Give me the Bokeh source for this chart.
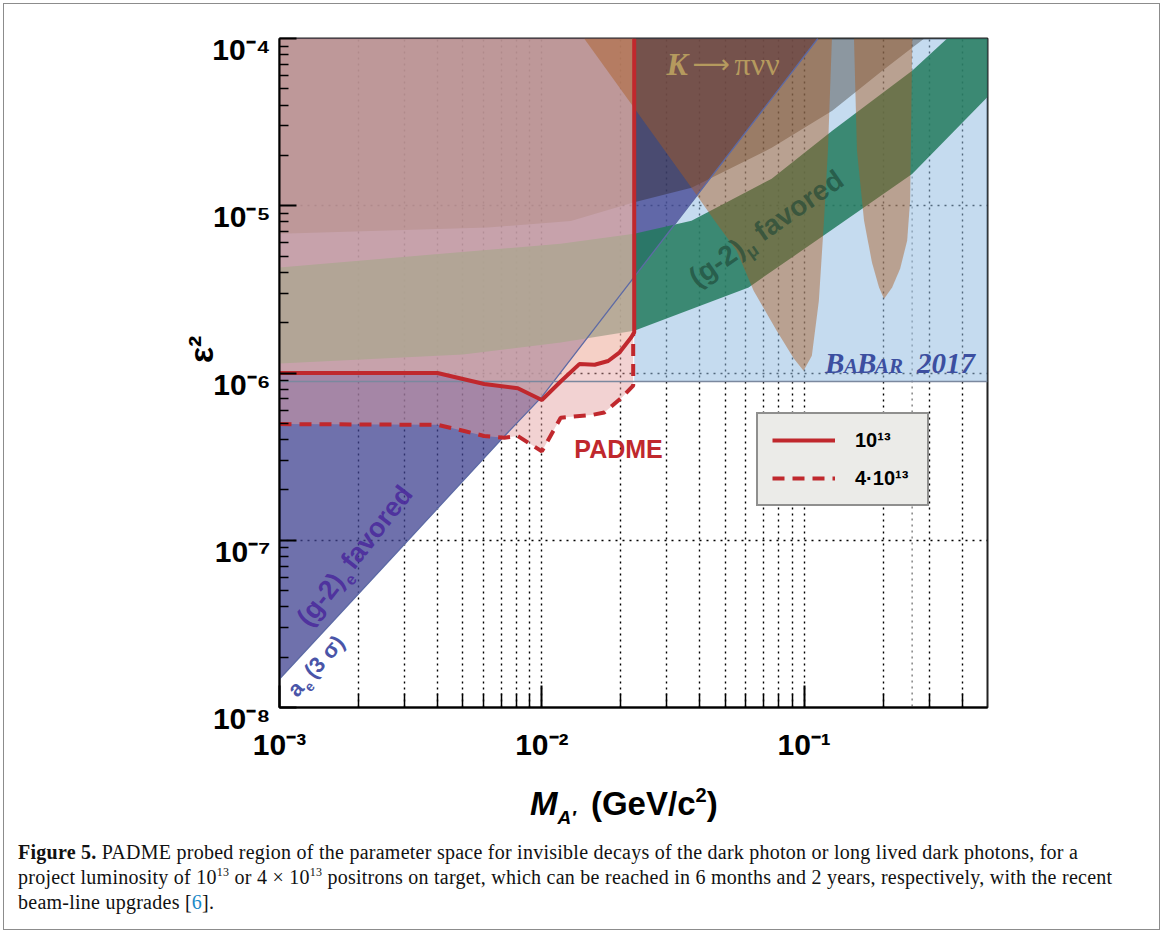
import math
from bokeh.plotting import figure
from bokeh.layouts import column
from bokeh.models import (Label, Legend, LegendItem, Range1d, FixedTicker, Span, Div,
                          CustomJSTickFormatter)
from bokeh.embed import file_html
from bokeh.resources import INLINE

# ---------------- axis limits / ticks ----------------
X_MIN, X_MAX = 1e-3, 0.5
Y_MIN, Y_MAX = 1e-8, 1e-4
x_ticks = [1e-3, 1e-2, 1e-1]
x_tick_labels = ["10⁻³", "10⁻²", "10⁻¹"]
y_ticks = [1e-8, 1e-7, 1e-6, 1e-5, 1e-4]
y_tick_labels = ["10⁻⁸", "10⁻⁷", "10⁻⁶", "10⁻⁵", "10⁻⁴"]
minor_mult = [2, 3, 4, 5, 6, 7, 8, 9]

# ---------------- data ----------------
# a_e (3 sigma) boundary of the (g-2)_e favoured region
ae_mass = [0.001, 0.003, 0.007, 0.01, 0.1128]
ae_eps2 = [1.48e-8, 9.5e-8, 4.0e-7, 7.2e-7, 1.0e-4]

# lower boundary of the dark (a_mu excluded) region
cx_mass = [0.001, 0.00623, 0.0129, 0.0225, 0.0372, 0.0752, 0.128, 0.198, 0.258, 0.287]
cx_eps2 = [6.8e-6, 7.4e-6, 8.1e-6, 1.05e-5, 1.28e-5, 2.22e-5, 3.7e-5, 6.4e-5, 8.8e-5, 1.0e-4]

# (g-2)_mu favoured band
gl_mass = [0.001, 0.005, 0.0118, 0.0225, 0.0614, 0.128, 0.258, 0.5]
gl_eps2 = [1.14e-6, 1.29e-6, 1.52e-6, 1.79e-6, 3.25e-6, 7.2e-6, 1.55e-5, 4.47e-5]
gu_mass = [0.001, 0.0118, 0.0225, 0.0372, 0.0752, 0.128, 0.258, 0.351]
gu_eps2 = [4.28e-6, 5.93e-6, 6.81e-6, 8.13e-6, 1.45e-5, 2.81e-5, 6.41e-5, 1.0e-4]

# BaBar 2017 limit
babar_eps2 = 8.9e-7

# K -> pi nu nu regions
k1_mass = [0.0145, 0.0225, 0.0372, 0.0456, 0.0553, 0.0642, 0.0786, 0.0913, 0.0995, 0.107,
           0.1138, 0.119, 0.1232, 0.1276]
k1_eps2 = [1e-4, 3.84e-5, 1.28e-5, 8.13e-6, 5.38e-6, 3.10e-6, 1.79e-6, 1.22e-6, 1.03e-6,
           1.27e-6, 2.70e-6, 8.1e-6, 2.13e-5, 1e-4]
k2_mass = [0.1549, 0.159, 0.1692, 0.1815, 0.193, 0.2017, 0.2164, 0.2322, 0.247, 0.2535, 0.2584]
k2_eps2 = [1e-4, 2.13e-5, 8.13e-6, 4.56e-6, 3.24e-6, 2.78e-6, 3.24e-6, 4.2e-6, 6.17e-6,
           1.07e-5, 1e-4]
k_edge_mass = 0.258

# PADME reach, 1e13 positrons on target (solid)
s_mass = [0.001, 0.004, 0.00603, 0.0081, 0.01, 0.0118, 0.0139, 0.0159, 0.0179, 0.0198,
          0.0219, 0.0225, 0.0225]
s_eps2 = [1.0e-6, 1.0e-6, 8.6e-7, 8.1e-7, 6.9e-7, 8.9e-7, 1.13e-6, 1.12e-6, 1.18e-6, 1.33e-6,
          1.63e-6, 1.75e-6, 1.0e-4]
# PADME reach, 4e13 positrons on target (dashed)
d_mass = [0.001, 0.004, 0.00506, 0.00603, 0.0072, 0.0081, 0.01, 0.0118, 0.0154, 0.0173,
          0.0201, 0.0223, 0.0223]
d_eps2 = [4.95e-7, 4.9e-7, 4.5e-7, 4.2e-7, 4.1e-7, 4.2e-7, 3.4e-7, 5.4e-7, 5.6e-7, 5.8e-7,
          7.1e-7, 8.4e-7, 1.7e-6]

legend_labels = ["10¹³", "4·10¹³"]

# ---------------- figure ----------------
p = figure(x_axis_type="log", y_axis_type="log",
           x_range=Range1d(X_MIN, X_MAX), y_range=Range1d(Y_MIN, Y_MAX),
           frame_width=708, frame_height=669,
           min_border_left=279, min_border_right=175, min_border_top=38,
           min_border_bottom=72,
           output_backend="svg", toolbar_location=None)
p.background_fill_color = "white"
p.border_fill_color = "white"
p.outline_line_color = "#222222"
p.outline_line_width = 2

fmt_code = """
let best = 0, bd = Infinity;
for (let i = 0; i < vals.length; i++) {
  const d = Math.abs(Math.log10(tick) - Math.log10(vals[i]));
  if (d < bd) { bd = d; best = i; }
}
return prefix + labels[best];
"""
xt = FixedTicker(ticks=x_ticks,
                 minor_ticks=[m * t for t in x_ticks for m in minor_mult if m * t < X_MAX])
yt = FixedTicker(ticks=y_ticks,
                 minor_ticks=[m * t for t in y_ticks[:-1] for m in minor_mult])
p.xaxis.ticker = xt
p.yaxis.ticker = yt
p.xgrid.ticker = xt
p.ygrid.ticker = yt
p.xaxis.formatter = CustomJSTickFormatter(
    args=dict(vals=x_ticks, labels=x_tick_labels, prefix=""), code=fmt_code)
p.yaxis.formatter = CustomJSTickFormatter(
    args=dict(vals=y_ticks, labels=y_tick_labels, prefix="\n"), code=fmt_code)

for ax in (p.xaxis, p.yaxis):
    ax.axis_line_color = "black"
    ax.axis_line_width = 2
    ax.major_tick_line_color = "black"
    ax.major_tick_line_width = 2
    ax.minor_tick_line_color = "black"
    ax.minor_tick_line_width = 1.5
    ax.major_tick_out = 0
    ax.minor_tick_out = 0
    ax.major_label_text_font = "Liberation Sans"
    ax.major_label_text_font_style = "bold"
    ax.major_label_text_font_size = "30px"
    ax.major_label_text_color = "black"
p.yaxis.major_label_text_line_height = 0.67
p.xaxis.major_tick_in = 22
p.xaxis.minor_tick_in = 14
p.yaxis.major_tick_in = 17
p.yaxis.minor_tick_in = 9
p.xaxis.major_label_standoff = 20
p.yaxis.major_label_standoff = 9

p.yaxis.axis_label = "\u00a0" * 5 + "ε²"
p.yaxis.axis_label_text_font = "Liberation Sans"
p.yaxis.axis_label_text_font_style = "bold"
p.yaxis.axis_label_text_font_size = "34px"
p.yaxis.axis_label_text_color = "black"
p.yaxis.axis_label_standoff = -11

p.xgrid.grid_line_color = "black"
p.xgrid.grid_line_dash = "2 4"
p.xgrid.grid_line_width = 1.4
p.xgrid.minor_grid_line_color = "black"
p.xgrid.minor_grid_line_dash = "2 4"
p.xgrid.minor_grid_line_width = 1.4
p.ygrid.grid_line_color = "black"
p.ygrid.grid_line_dash = "2 5"
p.ygrid.grid_line_width = 1.4
p.ygrid.minor_grid_line_color = None

p.add_layout(Span(location=k_edge_mass, dimension="height", line_color="#666666",
                  line_dash="2 4", line_width=1.2, level="underlay"))

# ---------------- filled regions ----------------
# BaBar 2017 (light blue)
p.patch([s_mass[-1], X_MAX, X_MAX, s_mass[-1]], [babar_eps2, babar_eps2, Y_MAX, Y_MAX],
        fill_color=(150, 190, 225), fill_alpha=0.55, line_color=None)
# (g-2)_e favoured (blue)
p.patch(ae_mass + [X_MIN], ae_eps2 + [Y_MAX],
        fill_color=(63, 66, 144), fill_alpha=0.75, line_color=None)
# a_mu excluded (dark)
p.patch(cx_mass + [X_MIN], cx_eps2 + [Y_MAX],
        fill_color=(30, 20, 10), fill_alpha=0.34, line_color=None)
# (g-2)_mu favoured (green)
p.patch(gl_mass + [X_MAX] + gu_mass[::-1], gl_eps2 + [Y_MAX] + gu_eps2[::-1],
        fill_color=(34, 122, 93), fill_alpha=0.85, line_color=None)
# PADME 4e13 reach
p.patch(d_mass + [d_mass[-1], X_MIN], d_eps2 + [Y_MAX, Y_MAX],
        fill_color=(227, 158, 158), fill_alpha=0.465, line_color=None)
# PADME 1e13 reach
p.patch(s_mass + [X_MIN], s_eps2 + [Y_MAX],
        fill_color=(250, 205, 180), fill_alpha=0.4, line_color=None)
# K -> pi nu nu
p.patch(k1_mass, k1_eps2, fill_color=(170, 90, 30), fill_alpha=0.45, line_color=None)
p.patch(k2_mass, k2_eps2, fill_color=(170, 90, 30), fill_alpha=0.45, line_color=None)

# ---------------- lines ----------------
p.line(ae_mass, ae_eps2, line_color="#5d6aa5", line_width=1.3)
p.line([X_MIN, X_MAX], [babar_eps2, babar_eps2], line_color="#7b889e", line_width=1.6)
r_dash = p.line(d_mass, d_eps2, line_color="#c0282d", line_width=4, line_dash="12 8")
r_solid = p.line(s_mass, s_eps2, line_color="#c0282d", line_width=4)

legend = Legend(items=[LegendItem(label=legend_labels[0], renderers=[r_solid]),
                       LegendItem(label=legend_labels[1], renderers=[r_dash])],
                location=(477, 201), orientation="vertical",
                glyph_width=63, glyph_height=24, label_height=24, label_width=58,
                label_standoff=20, padding=14, spacing=14, margin=0,
                background_fill_color="#ebebe8", background_fill_alpha=1.0,
                border_line_color="#333333", border_line_width=2,
                label_text_font="Liberation Sans", label_text_font_style="bold",
                label_text_font_size="20px", label_text_color="black")
p.add_layout(legend)


# ---------------- in-plot text ----------------
BASE_FIX = 0.37  # baseline correction, fraction of font size


def lab(x, y, text, xo, yo, size, color="black", style="bold", font="Liberation Sans",
        align="left", angle=0.0, alpha=1.0):
    c = BASE_FIX * size
    xo = xo - c * math.sin(angle)
    yo = yo + c * math.cos(angle)
    p.add_layout(Label(x=x, y=y, x_offset=xo, y_offset=yo, text=text, angle=angle,
                       text_font=font, text_font_size=f"{size}px", text_font_style=style,
                       text_color=color, text_alpha=alpha, text_align=align,
                       text_baseline="alphabetic"))


def rich(x, y, pieces, angle_deg, color, font="Liberation Sans", alpha=1.0):
    a = math.radians(angle_deg)
    for text, size, along, perp, style in pieces:
        dx = along * math.cos(a) - perp * math.sin(a)
        dy = along * math.sin(a) + perp * math.cos(a)
        lab(x, y, text, dx, dy, size, color=color, style=style, font=font,
            angle=a, alpha=alpha)


lab(0.0133, 3.08e-7, "PADME", 0, 0, 25, color="#c0282d")
lab(0.0299, 5.98e-5, "K", 0, 0, 32, color="#b59a5e", style="bold italic", font="Liberation Serif")
lab(0.0299, 5.98e-5, "⟶", 26, 2, 26, color="#b59a5e", style="normal", font="DejaVu Sans")
lab(0.0299, 5.98e-5, "πνν", 68, 0, 32, color="#b59a5e", style="normal", font="Liberation Serif")
rich(0.12, 9.9e-7, [("B", 29, 0, 0, "bold italic"), ("A", 21, 19, 0, "bold italic"),
                    ("B", 29, 32, 0, "bold italic"), ("AR", 21, 50, 0, "bold italic"),
                    ("2017", 29, 92, 0, "bold italic")], 0, "#3c4fa0", font="Liberation Serif")
rich(0.0393, 3.19e-6, [("(g-2)", 28, 0, 0, "bold"), ("μ", 18, 61, -7, "bold"),
                       ("favored", 28, 80, 0, "bold")], 35, "#1e4636", alpha=0.65)
rich(0.00131, 2.96e-8, [("(g-2)", 27, 0, 0, "bold"), ("e", 16, 59, -7, "bold"),
                        ("favored", 27, 72, 0, "bold")], 52, "#4b2b9c", alpha=0.9)
rich(0.00117, 1.13e-8, [("a", 22, 0, 0, "bold"), ("e", 14, 13, -6, "bold"),
                        ("(3 σ)", 22, 25, 0, "bold")], 48, "#4a55a8")

# ---------------- x-axis title and caption ----------------
x_title = Div(
    text=('<div style="margin-left:530px;padding-top:5px;font-family:\'Liberation Sans\';'
          'font-size:33px;font-weight:bold;line-height:40px;white-space:nowrap;color:#000">'
          '<i>M</i><sub style="font-size:19px;line-height:0;vertical-align:-9px;'
          'margin-right:6px"><i>A′</i></sub>'
          '&nbsp;(GeV/c<sup style="font-size:20px;line-height:0;vertical-align:13px">2</sup>)'
          '</div>'),
    width=1162, height=56, margin=(0, 0, 0, 0))

sup = '<sup style="font-size:12px;line-height:0;vertical-align:8px">13</sup>'
caption = Div(
    text=('<div style="position:fixed;left:3px;top:3px;width:1157px;height:927px;'
          'border:1px solid #8c8c8c;pointer-events:none;z-index:50"></div>'
          '<div style="font-family:\'Liberation Serif\';font-size:20px;letter-spacing:0.25px;'
          'line-height:25px;padding:5px 0 0 18px;white-space:nowrap;color:#111">'
          '<b>Figure 5.</b> PADME probed region of the parameter space for invisible decays '
          'of the dark photon or long lived dark photons, for a<br>'
          f'project luminosity of 10{sup} or 4 × 10{sup} positrons on target, which can be '
          'reached in 6 months and 2 years, respectively, with the recent<br>'
          'beam-line upgrades [<span style="color:#1a8ac8">6</span>].'
          '</div>'),
    width=1162, height=97, margin=(0, 0, 0, 0))

layout = column(p, x_title, caption, spacing=0)

open("out.html", "w").write(file_html(layout, INLINE))
